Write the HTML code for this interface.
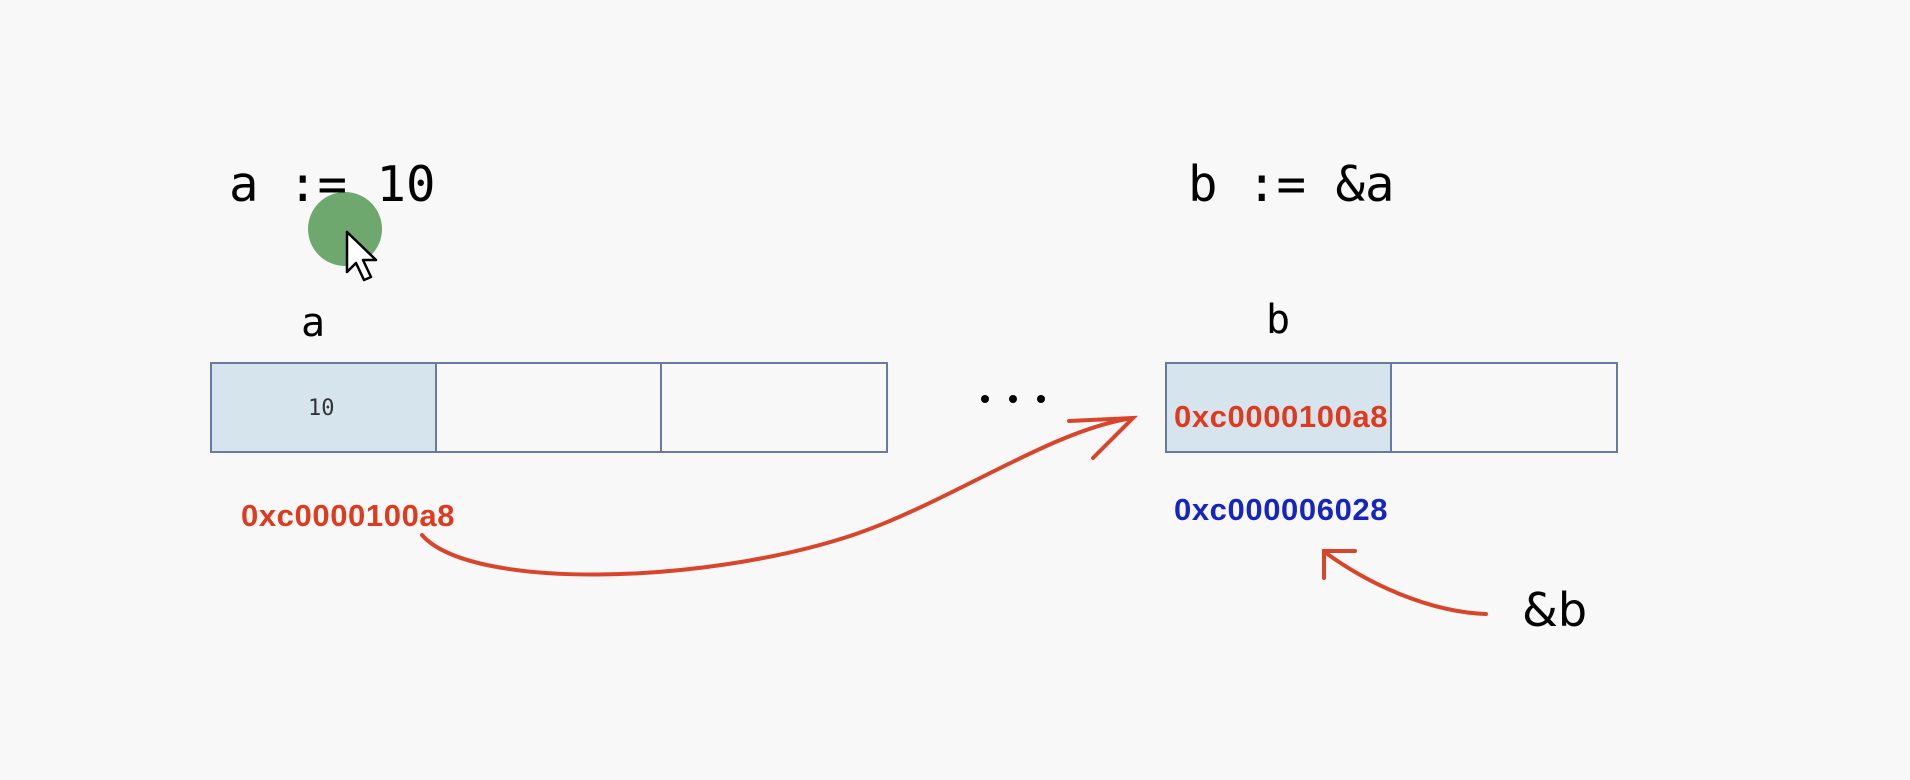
<!DOCTYPE html>
<html><head><meta charset="utf-8"><style>
html,body{margin:0;padding:0;background:#f8f8f8;}
body{width:1910px;height:780px;position:relative;overflow:hidden;font-family:"DejaVu Sans Mono","Liberation Mono",monospace;}
.t{position:absolute;white-space:nowrap;line-height:1;}
.addr{font-family:"Liberation Sans",sans-serif;font-weight:bold;font-size:31px;letter-spacing:0.6px;}
</style></head><body>
<svg width="1910" height="780" style="position:absolute;left:0;top:0">
  <circle cx="345" cy="229" r="37" fill="#5f9e5f" opacity="0.9"/>
  <path d="M347 232 L347 272 L356 263 L364 280 L371 277 L363 260 L376 260 Z" fill="#fff" stroke="#000" stroke-width="2.5" stroke-linejoin="round"/>
  <rect x="211" y="363" width="225" height="89" fill="#d6e4ee"/>
  <rect x="211" y="363" width="676" height="89" fill="none" stroke="#6a7a9e" stroke-width="2"/>
  <line x1="436" y1="363" x2="436" y2="452" stroke="#6a7a9e" stroke-width="2"/>
  <line x1="661" y1="363" x2="661" y2="452" stroke="#6a7a9e" stroke-width="2"/>
  <rect x="1166" y="363" width="225" height="89" fill="#d6e4ee"/>
  <rect x="1166" y="363" width="451" height="89" fill="none" stroke="#6a7a9e" stroke-width="2"/>
  <line x1="1391" y1="363" x2="1391" y2="452" stroke="#6a7a9e" stroke-width="2"/>
  <circle cx="985" cy="399" r="4" fill="#000"/><circle cx="1013" cy="399" r="4" fill="#000"/><circle cx="1041" cy="399" r="4" fill="#000"/>
  <g fill="none" stroke="#d8452a" stroke-width="4" stroke-linecap="round">
    <path d="M422 535 C470 590 700 585 850 536 C950 503 1050 430 1133 418"/>
    <path d="M1069 421 L1133 418 L1093 458"/>
    <path d="M1486 614 C1430 612 1370 585 1326 553"/>
    <path d="M1355 551 L1324 551 L1324 578"/>
  </g>
</svg>
<div class="t" style="left:229px;top:160px;font-size:49px;">a := 10</div>
<div class="t" style="left:1188px;top:160px;font-size:49px;">b := &amp;a</div>
<div class="t" style="left:301px;top:303px;font-size:40px;">a</div>
<div class="t" style="left:1266px;top:300px;font-size:40px;">b</div>
<div class="t" style="left:308px;top:398px;font-size:22px;color:#333;">10</div>
<div class="t addr" style="left:241px;top:500px;color:#e03a1e;">0xc0000100a8</div>
<div class="t addr" style="left:1174px;top:401px;color:#e03a1e;">0xc0000100a8</div>
<div class="t addr" style="left:1174px;top:494px;color:#1525c0;">0xc000006028</div>
<div class="t" style="left:1522px;top:587px;font-size:46px;font-family:'DejaVu Sans',sans-serif;">&amp;b</div>
</body></html>
